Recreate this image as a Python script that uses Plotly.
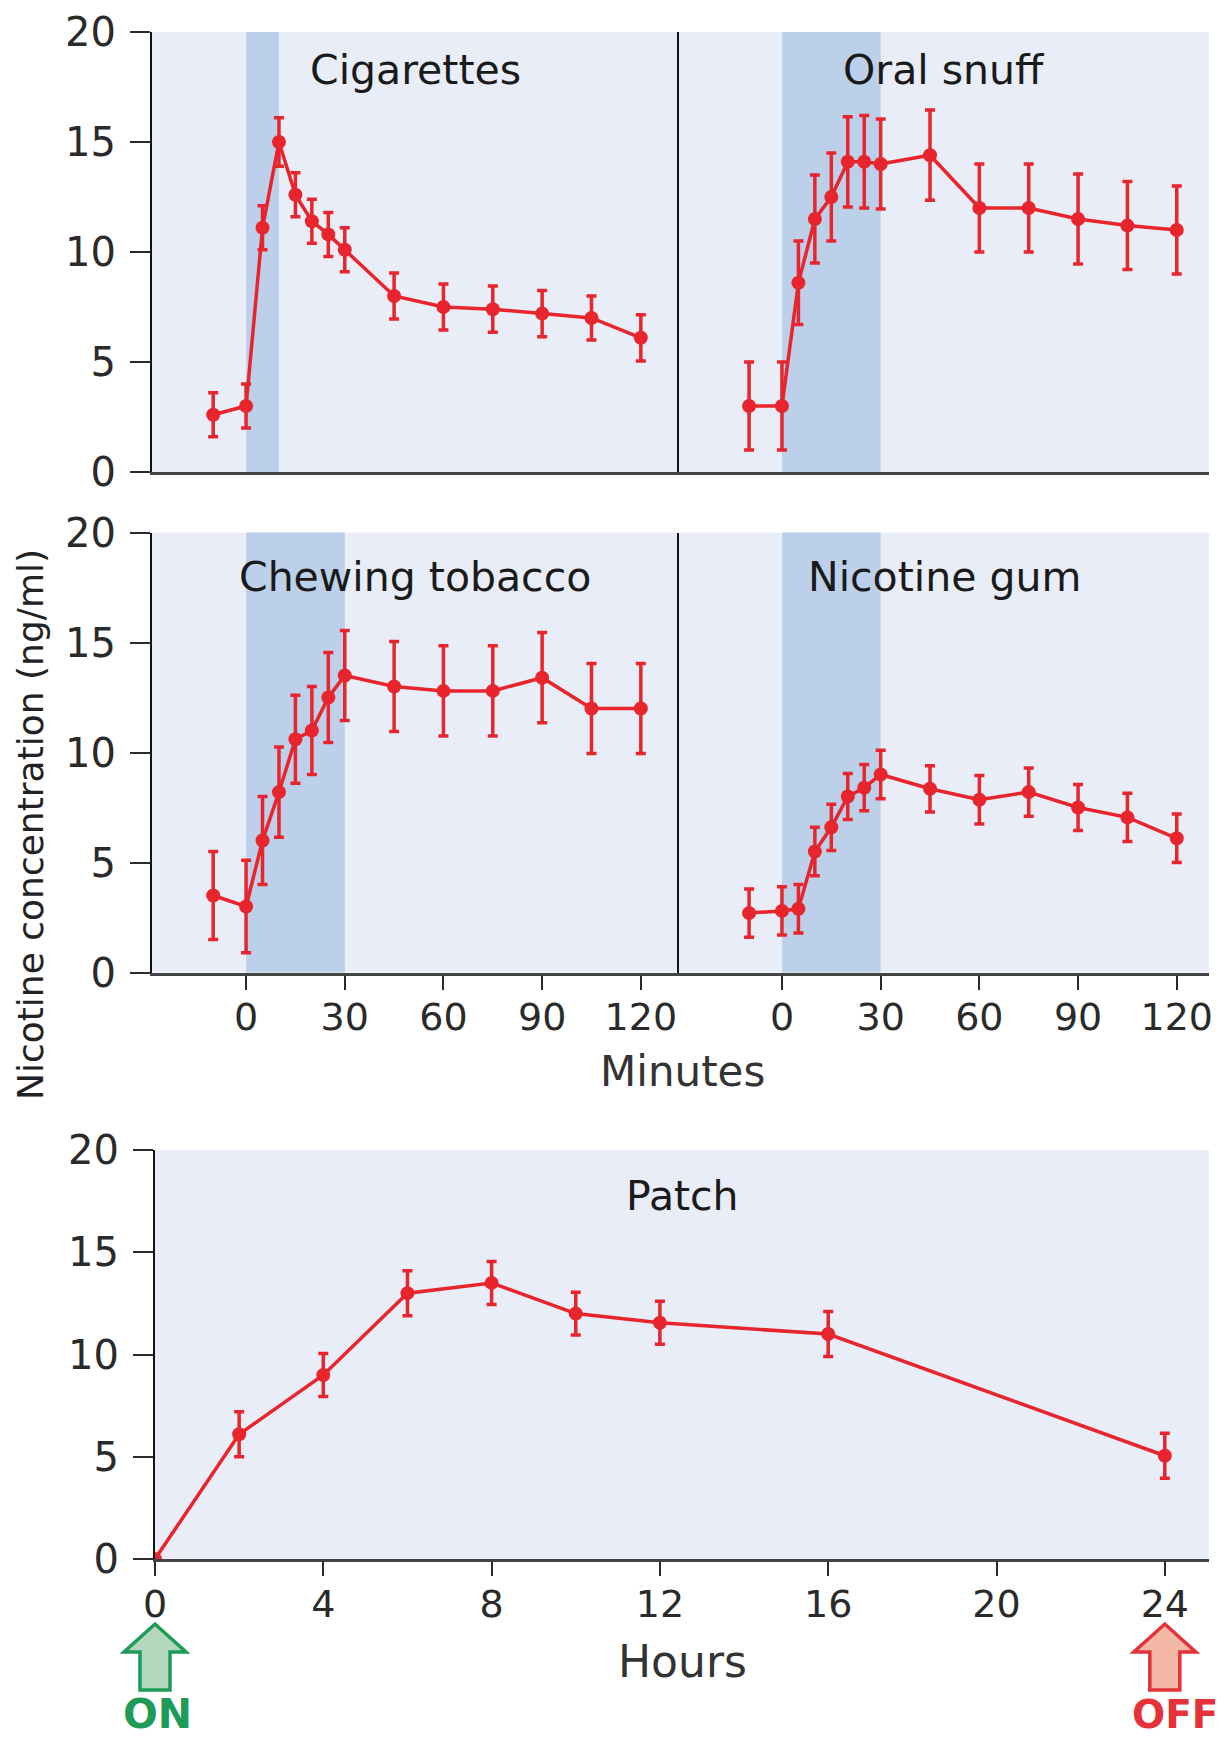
import plotly.graph_objects as go

# ---------------- data ----------------
minutes = [-10, 0, 5, 10, 15, 20, 25, 30, 45, 60, 75, 90, 105, 120]

cig = [2.6, 3.0, 11.1, 15.0, 12.6, 11.4, 10.8, 10.1, 8.0, 7.5, 7.4, 7.2, 7.0, 6.1]
cig_err = [1.0, 1.0, 1.0, 1.1, 1.0, 1.0, 1.0, 1.0, 1.05, 1.05, 1.05, 1.05, 1.0, 1.05]

snuff = [3.0, 3.0, 8.6, 11.5, 12.5, 14.1, 14.1, 14.0, 14.4, 12.0, 12.0, 11.5, 11.2, 11.0]
snuff_err = [2.0, 2.0, 1.9, 2.0, 2.0, 2.05, 2.1, 2.05, 2.05, 2.0, 2.0, 2.05, 2.0, 2.0]

chew = [3.5, 3.0, 6.0, 8.2, 10.6, 11.0, 12.5, 13.5, 13.0, 12.8, 12.8, 13.4, 12.0, 12.0]
chew_err = [2.0, 2.1, 2.0, 2.05, 2.0, 2.0, 2.05, 2.05, 2.05, 2.05, 2.05, 2.05, 2.05, 2.05]

gum = [2.7, 2.8, 2.9, 5.5, 6.6, 8.0, 8.4, 9.0, 8.35, 7.85, 8.2, 7.5, 7.05, 6.1]
gum_err = [1.1, 1.1, 1.1, 1.1, 1.05, 1.05, 1.05, 1.1, 1.05, 1.1, 1.1, 1.05, 1.1, 1.1]

hours = [0, 2, 4, 6, 8, 10, 12, 16, 24]
patch = [0, 6.1, 9.0, 13.0, 13.5, 12.0, 11.55, 11.0, 5.05]
patch_err = [0, 1.1, 1.05, 1.1, 1.05, 1.05, 1.05, 1.1, 1.1]

titles = ["Cigarettes", "Oral snuff", "Chewing tobacco", "Nicotine gum"]
exposure_start = [0, 0, 0, 0]
exposure_end = [10, 30, 30, 30]

y_ticks = [0, 5, 10, 15, 20]
min_ticks = [0, 30, 60, 90, 120]
hour_ticks = [0, 4, 8, 12, 16, 20, 24]
patch_on, patch_off = 0, 24

# ---------------- style / layout ----------------
PAGE_W, PAGE_H = 1225, 1737
BODY = 8  # default page margin around the plot div
W, H = PAGE_W - BODY, PAGE_H - BODY
RED = "#E8242C"
BG = "#E9EDF7"
SHADE = "#BCD0EA"
FONT = "DejaVu Sans"
TICKC = "#2a2a2a"


def fx(p):
    return (p - BODY) / W


def fy(p):
    return 1 - (p - BODY) / H


xL = [fx(152), fx(678)]
xR = [fx(679), fx(1209)]
xB = [fx(155), fx(1209)]
yT = [fy(472), fy(32)]
yM = [fy(972.5), fy(532.5)]
yB = [fy(1559), fy(1150)]
rangeL = [-28.6, 131.3]
rangeR = [-31.3, 129.8]
rangeB = [0, 25.05]

fig = go.Figure()

panels = [
    (cig, cig_err, "x", "y"),
    (snuff, snuff_err, "x2", "y2"),
    (chew, chew_err, "x3", "y3"),
    (gum, gum_err, "x4", "y4"),
]


def add_series(xs, ys, errs, xa, ya):
    fig.add_trace(go.Scatter(
        x=xs, y=ys, mode="lines+markers",
        line=dict(color=RED, width=3.5),
        marker=dict(size=14, color=RED),
        error_y=dict(type="data", array=errs, color=RED, thickness=3.5, width=5),
        xaxis=xa, yaxis=ya, showlegend=False, hoverinfo="skip",
    ))


for ys, errs, xa, ya in panels:
    add_series(minutes, ys, errs, xa, ya)
add_series(hours, patch, patch_err, "x5", "y5")

shapes = []
for (ys, errs, xa, ya), s0, s1 in zip(panels, exposure_start, exposure_end):
    shapes.append(dict(type="rect", xref=xa, yref=ya + " domain", x0=s0, x1=s1, y0=0, y1=1,
                       fillcolor=SHADE, line=dict(width=0), layer="below"))


def arrow(t, line_c, fill_c):
    frac = (t - rangeB[0]) / (rangeB[1] - rangeB[0])
    return dict(type="path", xref="x5 domain", yref="paper",
                xsizemode="pixel", ysizemode="pixel", xanchor=frac, yanchor=0,
                path="M -15,47 L 15,47 L 15,85 L 31,85 L 0,113 L -31,85 L -15,85 Z",
                fillcolor=fill_c, line=dict(color=line_c, width=3.5), layer="above")


shapes.append(arrow(patch_on, "#1E9B57", "#B3D6BD"))
shapes.append(arrow(patch_off, "#E5323A", "#F4B9A6"))

yaxis_common = dict(range=[0, 20], showgrid=False, zeroline=False, showline=True,
                    linecolor="#111111", linewidth=2)
yaxis_left = dict(yaxis_common, tickvals=y_ticks, ticks="outside", ticklen=20, tickwidth=2,
                  tickcolor=TICKC, tickfont=dict(family=FONT, size=40, color=TICKC),
                  ticklabelstandoff=6)
yaxis_right = dict(yaxis_common, ticks="", showticklabels=False)

xaxis_common = dict(showgrid=False, zeroline=False, showline=True, linecolor="#444444",
                    linewidth=3)
x_top = dict(xaxis_common, ticks="", showticklabels=False)
x_mid = dict(xaxis_common, tickvals=min_ticks, ticks="outside", ticklen=14, tickwidth=2,
             tickcolor=TICKC, tickfont=dict(family=FONT, size=38, color=TICKC),
             ticklabelstandoff=-5)

fig.update_layout(
    width=W, height=H, margin=dict(l=0, r=0, t=0, b=0, pad=0, autoexpand=False),
    paper_bgcolor="white", plot_bgcolor=BG,
    font=dict(family=FONT, color="#222222"),
    xaxis=dict(x_top, domain=xL, range=rangeL, anchor="y"),
    yaxis=dict(yaxis_left, domain=yT, anchor="x"),
    xaxis2=dict(x_top, domain=xR, range=rangeR, anchor="y2"),
    yaxis2=dict(yaxis_right, domain=yT, anchor="x2"),
    xaxis3=dict(x_mid, domain=xL, range=rangeL, anchor="y3"),
    yaxis3=dict(yaxis_left, domain=yM, anchor="x3"),
    xaxis4=dict(x_mid, domain=xR, range=rangeR, anchor="y4"),
    yaxis4=dict(yaxis_right, domain=yM, anchor="x4"),
    xaxis5=dict(x_mid, tickvals=hour_ticks, domain=xB, range=rangeB, anchor="y5"),
    yaxis5=dict(yaxis_left, domain=yB, anchor="x5"),
    shapes=shapes,
)

ann = []
title_y = [0.914, 0.914, 0.9, 0.9]
refs = [("x", "y"), ("x2", "y2"), ("x3", "y3"), ("x4", "y4")]
for t, (xa, ya), ty in zip(titles, refs, title_y):
    ann.append(dict(text=t, xref=xa + " domain", yref=ya + " domain", x=0.5, y=ty,
                    showarrow=False, font=dict(family=FONT, size=41, color="#1a1a1a"),
                    xanchor="center", yanchor="middle"))
ann.append(dict(text="Patch", xref="x5 domain", yref="y5 domain", x=0.5, y=0.888,
                showarrow=False, font=dict(family=FONT, size=41, color="#1a1a1a"),
                xanchor="center", yanchor="middle"))
ann.append(dict(text="Minutes", xref="paper", yref="paper", x=fx(682), y=fy(1071),
                showarrow=False, font=dict(family=FONT, size=42, color="#333333"),
                xanchor="center", yanchor="middle"))
ann.append(dict(text="Hours", xref="x5 domain", yref="paper", x=0.5, y=fy(1661),
                showarrow=False, font=dict(family=FONT, size=44, color="#333333"),
                xanchor="center", yanchor="middle"))
ann.append(dict(text="Nicotine concentration (ng/ml)", xref="paper", yref="paper",
                x=fx(30), y=fy(825), textangle=-90, showarrow=False,
                font=dict(family=FONT, size=36, color="#222222"),
                xanchor="center", yanchor="middle"))
ann.append(dict(text="<b>ON</b>", xref="x5", yref="paper", x=patch_on, y=fy(1714),
                showarrow=False, font=dict(family=FONT, size=41, color="#1E9B57"),
                xanchor="center", yanchor="middle", xshift=2))
ann.append(dict(text="<b>OFF</b>", xref="x5", yref="paper", x=patch_off, y=fy(1714),
                showarrow=False, font=dict(family=FONT, size=39, color="#E5323A"),
                xanchor="center", yanchor="middle", xshift=10))
fig.update_layout(annotations=ann)

fig.write_html("out.html")
